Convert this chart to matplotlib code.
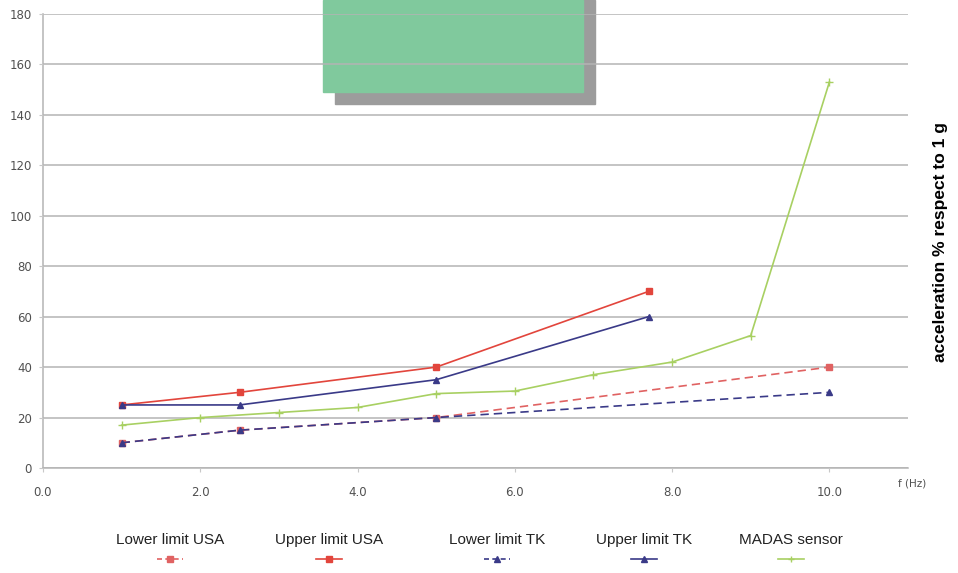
import matplotlib
matplotlib.use("Agg")
import matplotlib.pyplot as plt
from matplotlib.patches import Rectangle
from matplotlib.lines import Line2D

# values
lower_usa_f = [1.0, 2.5, 5.0, 10.0]
lower_usa = [10, 15, 20, 40]
upper_usa_f = [1.0, 2.5, 5.0, 7.7]
upper_usa = [25, 30, 40, 70]
lower_tk_f = [1.0, 2.5, 5.0, 10.0]
lower_tk = [10, 15, 20, 30]
upper_tk_f = [1.0, 2.5, 5.0, 7.7]
upper_tk = [25, 25, 35, 60]
madas_f = [1, 2, 3, 4, 5, 6, 7, 8, 9, 10]
madas = [17, 20, 22, 24, 29.5, 30.5, 37, 42, 52.5, 153]

x_ticks = [0, 2, 4, 6, 8, 10]
x_ticklabels = ["0.0", "2.0", "4.0", "6.0", "8.0", "10.0"]
y_ticks = list(range(0, 181, 20))

red = "#e2453c"
red_d = "#e06262"
navy = "#3a3a88"
green = "#a8d062"

series = [
    ("Lower limit USA", lower_usa_f, lower_usa, red_d, "--", "s"),
    ("Upper limit USA", upper_usa_f, upper_usa, red, "-", "s"),
    ("Lower limit TK", lower_tk_f, lower_tk, navy, "--", "^"),
    ("Upper limit TK", upper_tk_f, upper_tk, navy, "-", "^"),
    ("MADAS sensor", madas_f, madas, green, "-", "+"),
]

fig = plt.figure(figsize=(9.58, 5.73), dpi=100)
ax = fig.add_axes([43 / 958, 1 - 468 / 573, 865 / 958, 454 / 573])
ax.patch.set_alpha(0)

# green box with shadow at the top
fig.add_artist(Rectangle((335 / 958, 1 - 104 / 573), 260 / 958, 104 / 573,
                         transform=fig.transFigure, color="#9c9c9c", zorder=0))
fig.add_artist(Rectangle((323 / 958, 1 - 92 / 573), 260 / 958, 92 / 573,
                         transform=fig.transFigure, color="#80c99d", zorder=0))

for name, xs, ys, col, ls, mk in series:
    ax.plot(xs, ys, color=col, ls=ls, lw=1.2, marker=mk, ms=5 if mk != "+" else 6,
            mew=1.0, dashes=(5, 3) if ls == "--" else (None, None), zorder=3)

ax.set_xlim(0, 11)
ax.set_ylim(0, 180)
ax.set_xticks(x_ticks)
ax.set_xticklabels(x_ticklabels)
ax.set_yticks(y_ticks)
ax.yaxis.grid(True, color="#b4b4b4", lw=1.1)
ax.set_axisbelow(False)
for s in ["top", "right"]:
    ax.spines[s].set_visible(False)
for s in ["left", "bottom"]:
    ax.spines[s].set_color("#b4b4b4")
    ax.spines[s].set_linewidth(1.1)
ax.tick_params(axis="x", length=3, color="#c8c8c8", pad=10, labelsize=8.5, labelcolor="#505050")
ax.tick_params(axis="y", length=3, color="#c8c8c8", pad=5, labelsize=8.5, labelcolor="#505050")

fig.text(898 / 958, 1 - 484 / 573, "f (Hz)", fontsize=7.5, color="#505050", va="center")
fig.text(941 / 958, 1 - 242 / 573, "acceleration % respect to 1 g", rotation=90,
         fontsize=12.5, fontweight="bold", family="Liberation Sans", ha="center", va="center")

# legend: label above a short line sample
leg_x = [170, 329, 497, 644, 791]
for (name, xs, ys, col, ls, mk), cx in zip(series, leg_x):
    fig.text(cx / 958, 1 - 540 / 573, name, fontsize=11, family="Liberation Sans",
             ha="center", va="center", color="#222222")
    xx = [(cx - 13) / 958, cx / 958, (cx + 13) / 958]
    yy = [1 - 559 / 573] * 3
    fig.add_artist(Line2D(xx, yy, transform=fig.transFigure, color=col, ls=ls, lw=1.2,
                          marker=mk, ms=4.5, markevery=[1],
                          dashes=(3, 2) if ls == "--" else (None, None)))

fig.savefig("out.png", dpi=100)
